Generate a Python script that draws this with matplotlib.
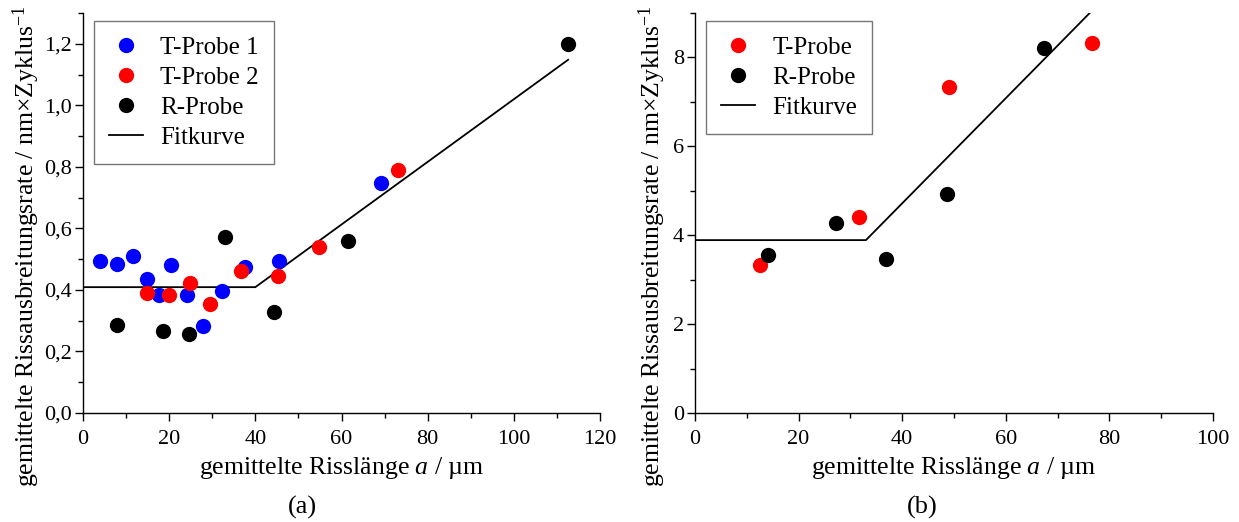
import matplotlib
matplotlib.use("Agg")
import matplotlib.pyplot as plt
from matplotlib.ticker import MultipleLocator, FuncFormatter

plt.rcParams['font.family'] = ['Liberation Serif', 'DejaVu Serif']
plt.rcParams['mathtext.fontset'] = 'custom'
plt.rcParams['mathtext.rm'] = 'Liberation Serif'
plt.rcParams['mathtext.it'] = 'Liberation Serif:italic'

# ---- Panel (a) data ----
a_t1_x = [4.0, 8.0, 11.6, 14.9, 17.6, 20.4, 24.2, 27.8, 32.2, 37.5, 45.4, 69.1]
a_t1_y = [0.495, 0.484, 0.511, 0.435, 0.382, 0.480, 0.385, 0.283, 0.397, 0.476, 0.494, 0.749]
a_t2_x = [14.9, 20.0, 24.8, 29.4, 36.6, 45.2, 54.7, 73.1]
a_t2_y = [0.391, 0.385, 0.424, 0.355, 0.463, 0.446, 0.538, 0.791]
a_r_x = [8.0, 18.5, 24.6, 33.0, 44.4, 61.5, 112.6]
a_r_y = [0.286, 0.265, 0.256, 0.571, 0.328, 0.560, 1.200]
a_fit_x = [0, 40.0, 112.6]
a_fit_y = [0.409, 0.409, 1.148]

# ---- Panel (b) data ----
b_t_x = [12.6, 31.7, 49.0, 76.7]
b_t_y = [3.33, 4.40, 7.33, 8.32]
b_r_x = [14.0, 27.2, 36.9, 48.6, 67.4]
b_r_y = [3.55, 4.28, 3.46, 4.92, 8.21]
b_fit_x = [0, 33.0, 76.2]
b_fit_y = [3.89, 3.89, 9.0]

xlabel = "gemittelte Risslänge $\\mathit{a}$ / µm"
ylabel = "gemittelte Rissausbreitungsrate / nm\u00d7Zyklus$^{-1}$"

W, H = 1239, 522
fig = plt.figure(figsize=(W / 100, H / 100), dpi=100)
ax1 = fig.add_axes([83 / W, (H - 413) / H, 517 / W, 400 / H])
ax2 = fig.add_axes([695 / W, (H - 413) / H, 518 / W, 400 / H])

ms = 11
ax1.plot(a_fit_x, a_fit_y, color='black', lw=1.3, label='Fitkurve', zorder=2)
ax1.plot(a_t1_x, a_t1_y, 'o', color='#0000ff', ms=ms, mec='none', label='T-Probe 1', zorder=3)
ax1.plot(a_t2_x, a_t2_y, 'o', color='#ff0000', ms=ms, mec='none', label='T-Probe 2', zorder=4)
ax1.plot(a_r_x, a_r_y, 'o', color='black', ms=ms, mec='none', label='R-Probe', zorder=5)

ax2.plot(b_fit_x, b_fit_y, color='black', lw=1.3, label='Fitkurve', zorder=2)
ax2.plot(b_t_x, b_t_y, 'o', color='#ff0000', ms=ms, mec='none', label='T-Probe', zorder=3)
ax2.plot(b_r_x, b_r_y, 'o', color='black', ms=ms, mec='none', label='R-Probe', zorder=4)

ax1.set_xlim(0, 120)
ax1.set_ylim(0, 1.3)
ax1.xaxis.set_major_locator(MultipleLocator(20))
ax1.xaxis.set_minor_locator(MultipleLocator(10))
ax1.yaxis.set_major_locator(MultipleLocator(0.2))
ax1.yaxis.set_minor_locator(MultipleLocator(0.1))
ax1.yaxis.set_major_formatter(FuncFormatter(lambda v, p: f"{v:.1f}".replace('.', ',')))

ax2.set_xlim(0, 100)
ax2.set_ylim(0, 9)
ax2.xaxis.set_major_locator(MultipleLocator(20))
ax2.xaxis.set_minor_locator(MultipleLocator(10))
ax2.yaxis.set_major_locator(MultipleLocator(2))
ax2.yaxis.set_minor_locator(MultipleLocator(1))

for ax, ylx in ((ax1, (26 - 83) / 517), (ax2, (652 - 695) / 518)):
    ax.spines['top'].set_visible(False)
    ax.spines['right'].set_visible(False)
    for s in ('left', 'bottom'):
        ax.spines[s].set_linewidth(1.0)
    ax.tick_params(which='major', direction='out', length=5.5, width=1, labelsize=16)
    ax.tick_params(which='minor', direction='out', length=3.5, width=1)
    ax.tick_params(axis='x', which='major', pad=7)
    ax.tick_params(axis='y', which='major', pad=2.5)
    ax.set_xlabel(xlabel, fontsize=18.5, va='center')
    ax.xaxis.set_label_coords(0.5, (413 - 468) / 400)
    ax.set_ylabel(ylabel, fontsize=18.5, va='center', ha='center')
    ax.yaxis.set_label_coords(ylx, (413 - 246) / 400)

legkw = dict(loc='upper left', fontsize=18, frameon=True, fancybox=False,
             edgecolor='#555555', handlelength=1.35, handletextpad=0.7,
             labelspacing=0.3, borderpad=0.6, borderaxespad=0.0)

h, l = ax1.get_legend_handles_labels()
order = [1, 2, 3, 0]
leg1 = ax1.legend([h[i] for i in order], [l[i] for i in order],
                  bbox_to_anchor=(0.021, 0.98), **legkw)
leg1.get_frame().set_linewidth(1.0)

h, l = ax2.get_legend_handles_labels()
order = [1, 2, 0]
leg2 = ax2.legend([h[i] for i in order], [l[i] for i in order],
                  bbox_to_anchor=(0.021, 0.98), **legkw)
leg2.get_frame().set_linewidth(1.0)

fig.text(302 / W, 1 - 507 / H, "(a)", fontsize=19, ha='center', va='center')
fig.text(922 / W, 1 - 507 / H, "(b)", fontsize=19, ha='center', va='center')

fig.savefig("out.png", dpi=100)
